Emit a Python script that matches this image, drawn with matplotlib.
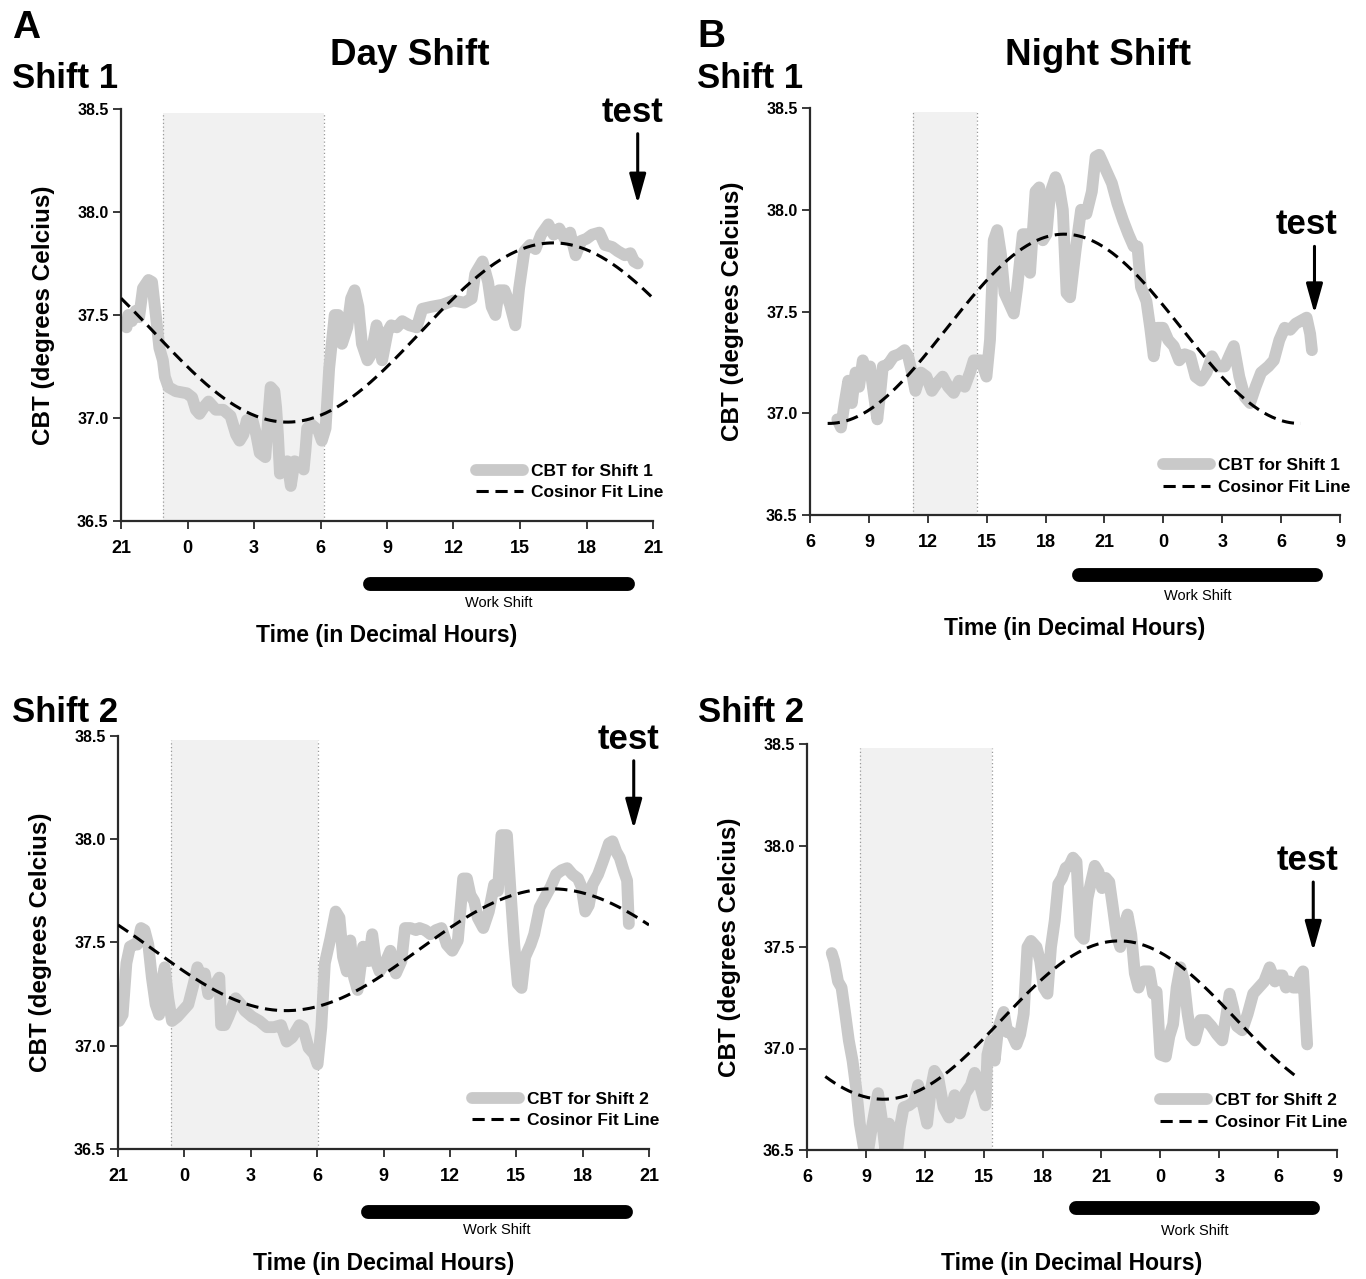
import numpy as np
import matplotlib
matplotlib.use("Agg")
import matplotlib.pyplot as plt

plt.rcParams['font.family'] = ['Liberation Sans', 'DejaVu Sans']

W, H = 1366, 1279

# ---------------- data (x = elapsed hours from panel start) ----------------
# Day shift panels: x=0 is 21:00 ; Night shift panels: x=6 is 06:00
day_ticks = [0, 3, 6, 9, 12, 15, 18, 21, 24]
day_labels = ['21', '0', '3', '6', '9', '12', '15', '18', '21']
night_ticks = [6, 9, 12, 15, 18, 21, 24, 27, 30, 33]
night_labels = ['6', '9', '12', '15', '18', '21', '0', '3', '6', '9']
y_ticks = [36.5, 37.0, 37.5, 38.0, 38.5]

# Panel A, shift 1
a1_hours = [0.25, 0.33, 0.49, 0.66, 0.82, 0.99, 1.24, 1.40, 1.57, 1.73, 1.89, 1.98, 2.14, 2.47, 2.97,
            3.21, 3.38, 3.54, 3.79, 3.95, 4.28, 4.61, 4.94, 5.19, 5.35, 5.52, 5.68, 5.93, 6.10, 6.26,
            6.51, 6.67, 6.75, 6.92, 7.00, 7.08, 7.17, 7.33, 7.50, 7.66, 7.83, 8.07, 8.24, 8.32, 8.40,
            8.57, 8.90, 9.06, 9.23, 9.39, 9.64, 9.80, 9.97, 10.21, 10.38, 10.54, 10.71, 10.87, 11.12,
            11.29, 11.53, 11.70, 11.78, 12.03, 12.19, 12.44, 12.69, 13.01, 13.34, 13.59, 14.00, 14.50,
            14.99, 15.49, 15.82, 15.98, 16.31, 16.56, 16.72, 16.89, 17.05, 17.30, 17.55, 17.79, 17.96,
            18.20, 18.45, 18.70, 18.95, 19.28, 19.52, 19.77, 20.02, 20.26, 20.51, 20.76, 21.00, 21.25,
            21.58, 21.83, 22.16, 22.41, 22.73, 22.98, 23.15, 23.31]
a1_temp = [37.44, 37.50, 37.47, 37.52, 37.49, 37.63, 37.67, 37.66, 37.50, 37.34, 37.28, 37.20, 37.15,
           37.13, 37.12, 37.10, 37.04, 37.02, 37.06, 37.08, 37.04, 37.04, 37.01, 36.92, 36.89, 36.92,
           36.99, 36.99, 36.92, 36.83, 36.81, 37.04, 37.15, 37.13, 37.05, 36.92, 36.73, 36.75, 36.79,
           36.67, 36.79, 36.78, 36.75, 36.84, 36.95, 36.97, 36.94, 36.89, 36.95, 37.24, 37.50, 37.50,
           37.36, 37.44, 37.58, 37.62, 37.54, 37.36, 37.28, 37.31, 37.45, 37.37, 37.28, 37.42, 37.45,
           37.44, 37.47, 37.45, 37.44, 37.53, 37.54, 37.55, 37.57, 37.56, 37.58, 37.70, 37.76, 37.66,
           37.54, 37.50, 37.62, 37.62, 37.55, 37.45, 37.63, 37.81, 37.84, 37.82, 37.89, 37.94, 37.89,
           37.92, 37.87, 37.90, 37.79, 37.86, 37.87, 37.89, 37.90, 37.84, 37.83, 37.81, 37.79, 37.80,
           37.76, 37.75]

# Panel A, shift 2
a2_hours = [0.05, 0.21, 0.38, 0.54, 0.71, 0.87, 1.04, 1.20, 1.37, 1.53, 1.70, 1.86, 2.02, 2.11, 2.27,
            2.44, 2.68, 2.93, 3.18, 3.42, 3.59, 3.75, 3.92, 4.08, 4.25, 4.41, 4.58, 4.66, 4.82, 4.99,
            5.32, 5.56, 5.73, 6.06, 6.39, 6.72, 7.05, 7.37, 7.62, 7.87, 8.20, 8.36, 8.61, 8.86, 9.02,
            9.19, 9.35, 9.60, 9.84, 10.01, 10.17, 10.34, 10.50, 10.67, 10.83, 11.08, 11.33, 11.49,
            11.65, 11.82, 12.07, 12.31, 12.56, 12.81, 12.97, 13.22, 13.47, 13.63, 13.88, 14.12, 14.37,
            14.62, 14.86, 15.11, 15.36, 15.60, 15.77, 15.93, 16.10, 16.26, 16.51, 16.76, 17.00, 17.17,
            17.33, 17.58, 17.74, 17.91, 18.07, 18.24, 18.40, 18.65, 18.81, 19.06, 19.31, 19.56, 19.80,
            20.05, 20.30, 20.54, 20.79, 20.95, 21.12, 21.28, 21.45, 21.70, 21.94, 22.19, 22.35, 22.52,
            22.68, 22.85, 23.01, 23.09]
a2_temp = [37.12, 37.15, 37.40, 37.48, 37.49, 37.49, 37.57, 37.56, 37.49, 37.33, 37.20, 37.15, 37.33,
           37.38, 37.23, 37.12, 37.14, 37.17, 37.20, 37.30, 37.38, 37.33, 37.35, 37.25, 37.28, 37.30,
           37.33, 37.10, 37.10, 37.14, 37.23, 37.20, 37.17, 37.14, 37.12, 37.09, 37.09, 37.10, 37.02,
           37.04, 37.10, 37.09, 36.99, 36.96, 36.91, 37.09, 37.40, 37.52, 37.65, 37.62, 37.43, 37.36,
           37.51, 37.33, 37.27, 37.48, 37.41, 37.54, 37.41, 37.36, 37.40, 37.46, 37.35, 37.41, 37.57,
           37.57, 37.56, 37.57, 37.56, 37.54, 37.56, 37.57, 37.49, 37.46, 37.51, 37.81, 37.81, 37.73,
           37.70, 37.62, 37.57, 37.65, 37.78, 37.75, 38.02, 38.02, 37.75, 37.49, 37.30, 37.28, 37.43,
           37.49, 37.54, 37.67, 37.72, 37.77, 37.83, 37.85, 37.86, 37.83, 37.81, 37.77, 37.65, 37.68,
           37.78, 37.83, 37.90, 37.98, 37.99, 37.94, 37.91, 37.85, 37.80, 37.59]

# Panel B, shift 1
b1_hours = [7.39, 7.58, 7.76, 7.95, 8.13, 8.32, 8.50, 8.69, 8.87, 9.06, 9.24, 9.43, 9.61, 9.71, 9.98,
            10.26, 10.54, 10.82, 11.00, 11.19, 11.37, 11.65, 11.93, 12.21, 12.49, 12.76, 13.04, 13.32,
            13.60, 13.88, 14.15, 14.34, 14.71, 14.99, 15.17, 15.36, 15.54, 15.73, 15.91, 16.10, 16.38,
            16.56, 16.84, 17.03, 17.21, 17.49, 17.68, 17.86, 18.05, 18.23, 18.51, 18.69, 18.88, 19.07,
            19.25, 19.53, 19.81, 20.08, 20.36, 20.55, 20.73, 20.92, 21.10, 21.38, 21.66, 21.94, 22.22,
            22.49, 22.68, 22.86, 23.14, 23.33, 23.51, 23.70, 23.98, 24.25, 24.53, 24.81, 25.09, 25.37,
            25.64, 25.92, 26.20, 26.48, 26.76, 27.13, 27.40, 27.59, 27.87, 28.15, 28.42, 28.70, 28.98,
            29.35, 29.63, 29.91, 30.18, 30.46, 30.74, 31.11, 31.30, 31.48, 31.57]
b1_temp = [36.97, 36.93, 37.05, 37.16, 37.05, 37.20, 37.13, 37.26, 37.20, 37.23, 37.10, 36.97, 37.13,
           37.23, 37.24, 37.28, 37.29, 37.31, 37.28, 37.20, 37.11, 37.20, 37.18, 37.11, 37.15, 37.18,
           37.13, 37.10, 37.16, 37.13, 37.20, 37.26, 37.26, 37.18, 37.36, 37.85, 37.90, 37.78, 37.59,
           37.55, 37.49, 37.62, 37.88, 37.88, 37.69, 38.09, 38.11, 37.85, 37.88, 38.08, 38.16, 38.11,
           38.00, 37.59, 37.57, 37.80, 38.00, 37.98, 38.09, 38.26, 38.27, 38.23, 38.19, 38.13, 38.03,
           37.95, 37.88, 37.82, 37.82, 37.62, 37.55, 37.42, 37.28, 37.42, 37.42, 37.36, 37.33, 37.26,
           37.29, 37.28, 37.18, 37.16, 37.20, 37.28, 37.23, 37.23, 37.29, 37.33, 37.18, 37.08, 37.05,
           37.13, 37.20, 37.23, 37.26, 37.36, 37.42, 37.41, 37.44, 37.46, 37.47, 37.39, 37.31]

# Panel B, shift 2
b2_hours = [7.26, 7.39, 7.58, 7.76, 7.95, 8.13, 8.32, 8.51, 8.69, 8.88, 9.06, 9.25, 9.43, 9.62, 9.80,
            9.99, 10.18, 10.36, 10.55, 10.73, 10.92, 11.20, 11.47, 11.66, 11.94, 12.12, 12.31, 12.49,
            12.68, 12.96, 13.24, 13.52, 13.79, 14.07, 14.35, 14.54, 14.81, 15.09, 15.19, 15.37, 15.56,
            15.74, 16.02, 16.21, 16.39, 16.67, 16.86, 17.04, 17.23, 17.41, 17.69, 17.88, 18.06, 18.25,
            18.43, 18.62, 18.80, 18.99, 19.18, 19.36, 19.55, 19.73, 19.92, 20.10, 20.29, 20.47, 20.66,
            20.85, 21.03, 21.22, 21.40, 21.59, 21.77, 21.96, 22.14, 22.33, 22.52, 22.70, 22.89, 23.16,
            23.44, 23.63, 23.81, 24.00, 24.28, 24.46, 24.65, 24.83, 25.02, 25.21, 25.39, 25.58, 25.76,
            26.04, 26.32, 26.60, 26.88, 27.15, 27.34, 27.53, 27.71, 27.90, 28.17, 28.45, 28.73, 29.01,
            29.29, 29.57, 29.84, 30.03, 30.22, 30.40, 30.59, 30.77, 30.96, 31.14, 31.27, 31.39, 31.48]
b2_temp = [37.47, 37.43, 37.33, 37.30, 37.17, 37.04, 36.94, 36.80, 36.63, 36.52, 36.46, 36.58, 36.68,
           36.78, 36.66, 36.50, 36.63, 36.50, 36.46, 36.61, 36.71, 36.72, 36.74, 36.82, 36.71, 36.63,
           36.80, 36.89, 36.86, 36.71, 36.66, 36.77, 36.68, 36.78, 36.82, 36.88, 36.82, 36.72, 36.97,
           37.04, 36.94, 37.10, 37.18, 37.08, 37.08, 37.02, 37.07, 37.17, 37.50, 37.53, 37.50, 37.43,
           37.30, 37.27, 37.50, 37.63, 37.81, 37.84, 37.89, 37.90, 37.94, 37.92, 37.56, 37.54, 37.74,
           37.82, 37.90, 37.87, 37.79, 37.84, 37.82, 37.69, 37.56, 37.50, 37.60, 37.66, 37.56, 37.37,
           37.30, 37.38, 37.38, 37.27, 37.28, 36.97, 36.96, 37.06, 37.12, 37.30, 37.40, 37.33, 37.17,
           37.06, 37.04, 37.14, 37.14, 37.11, 37.07, 37.04, 37.15, 37.27, 37.20, 37.11, 37.09, 37.17,
           37.27, 37.30, 37.33, 37.40, 37.33, 37.36, 37.36, 37.30, 37.33, 37.30, 37.30, 37.36, 37.38,
           37.17, 37.02]

# Cosinor fit parameters: mesor, amplitude, acrophase (elapsed h), start, end (elapsed h)
a1_cosinor = [37.415, 0.435, 19.5, 0.0, 24.0]
a2_cosinor = [37.465, 0.295, 19.6, 0.0, 24.0]
b1_cosinor = [37.415, 0.465, 18.95, 6.9, 31.0]
b2_cosinor = [37.14, 0.39, 21.9, 6.93, 31.05]

# Sleep episodes (elapsed h)
a1_sleep = [1.9, 9.15]
a2_sleep = [2.40, 9.05]
b1_sleep = [11.27, 14.5]
b2_sleep = [8.69, 15.41]

# Work shifts (elapsed h)
a1_work = [11.25, 22.85]
a2_work = [11.3, 22.95]
b1_work = [19.7, 31.8]
b2_work = [19.7, 31.8]

# "test" markers: x, arrow top, arrow tip
a1_test = [23.31, 38.38, 38.04]
a2_test = [23.31, 38.38, 38.05]
b1_test = [31.70, 37.82, 37.49]
b2_test = [31.79, 37.82, 37.48]

GRAY = '#c9c9c9'


def fig_rect(left, top, right, bottom):
    return [left / W, 1 - bottom / H, (right - left) / W, (bottom - top) / H]


fig = plt.figure(figsize=(W / 100, H / 100), dpi=100)


def panel(rect, hours, temp, cos, sleep, work, test, ticks, labels, xlim, label,
          bar_y, ws_y, xl_y, test_dx):
    ax = fig.add_axes(rect)
    ax.set_xlim(*xlim)
    ax.set_ylim(36.5, 38.5)
    ax.axvspan(sleep[0], sleep[1], ymin=0, ymax=0.99, color='#f1f1f1', zorder=0, lw=0)
    for s in sleep:
        ax.plot([s, s], [36.5, 38.48], ls=(0, (1, 2)), color='#9a9a9a', lw=0.9, zorder=1)
    ax.plot(hours, temp, color=GRAY, lw=8.5, solid_capstyle='round', solid_joinstyle='round',
            zorder=2, label='CBT for ' + label)
    m, a, ph, t0, t1 = cos
    tt = np.linspace(t0, t1, 300)
    ax.plot(tt, m + a * np.cos(2 * np.pi * (tt - ph) / 24), color='black', lw=2.2,
            ls=(0, (4, 2.2)), zorder=3, label='Cosinor Fit Line')
    ax.set_xticks(ticks)
    ax.set_xticklabels(labels)
    ax.set_yticks(y_ticks)
    ax.set_yticklabels(['%.1f' % v for v in y_ticks])
    for sp in ['top', 'right']:
        ax.spines[sp].set_visible(False)
    for sp in ['left', 'bottom']:
        ax.spines[sp].set_linewidth(1.6)
        ax.spines[sp].set_color('#2a2a2a')
    ax.tick_params(axis='both', direction='out', length=6, width=1.3, color='#2a2a2a')
    ax.tick_params(axis='x', labelsize=13, pad=8)
    ax.tick_params(axis='y', labelsize=11.5, pad=3)
    for t in ax.get_xticklabels() + ax.get_yticklabels():
        t.set_fontweight('bold')
    ax.set_ylabel('CBT (degrees Celcius)', fontsize=17.5, fontweight='bold', labelpad=16)
    ax.legend(loc='lower right', bbox_to_anchor=(1.02, 0.05), frameon=False,
              borderpad=0, borderaxespad=0, handlelength=2.7, handletextpad=0.5,
              labelspacing=0.35, prop={'weight': 'bold', 'size': 12.5})
    # work shift bar
    ax.plot(work, [bar_y, bar_y], transform=ax.get_xaxis_transform(), color='black', lw=10,
            solid_capstyle='round', clip_on=False)
    ax.text((work[0] + work[1]) / 2, ws_y, 'Work Shift', transform=ax.get_xaxis_transform(),
            ha='center', va='center', fontsize=10.5)
    ax.text(0.5, xl_y, 'Time (in Decimal Hours)', transform=ax.transAxes, ha='center',
            va='center', fontsize=16.5, fontweight='bold')
    # test arrow
    ax.annotate('', xy=(test[0], test[2]), xytext=(test[0], test[1]),
                arrowprops=dict(arrowstyle='-|>,head_width=0.28,head_length=1.0', lw=2.2,
                                color='black', mutation_scale=18, shrinkA=0, shrinkB=0),
                annotation_clip=False)
    ax.text(test[0] + test_dx, test[1] + 0.025, 'test', ha='center', va='bottom', fontsize=25,
            fontweight='bold', clip_on=False)
    return ax


panel(fig_rect(121, 109, 653, 521), a1_hours, a1_temp, a1_cosinor, a1_sleep, a1_work, a1_test,
      day_ticks, day_labels, (0, 24), 'Shift 1', -0.153, -0.2, -0.278, -0.25)
panel(fig_rect(810, 108, 1340, 515), b1_hours, b1_temp, b1_cosinor, b1_sleep, b1_work, b1_test,
      night_ticks, night_labels, (6, 33), 'Shift 1', -0.147, -0.2, -0.28, -0.4)
panel(fig_rect(118, 736, 649, 1149), a2_hours, a2_temp, a2_cosinor, a2_sleep, a2_work, a2_test,
      day_ticks, day_labels, (0, 24), 'Shift 2', -0.153, -0.196, -0.278, -0.25)
panel(fig_rect(807, 744, 1337, 1150), b2_hours, b2_temp, b2_cosinor, b2_sleep, b2_work, b2_test,
      night_ticks, night_labels, (6, 33), 'Shift 2', -0.143, -0.2, -0.28, -0.3)


def ftext(px, py, s, size, ha='left'):
    fig.text(px / W, 1 - py / H, s, fontsize=size, fontweight='bold', ha=ha, va='baseline')


ftext(12, 38, 'A', 28)
ftext(697, 47, 'B', 28)
ftext(410, 65, 'Day Shift', 26.5, ha='center')
ftext(1098, 65, 'Night Shift', 26.5, ha='center')
ftext(12, 88, 'Shift 1', 25)
ftext(697, 88, 'Shift 1', 25)
ftext(12, 722, 'Shift 2', 25)
ftext(698, 722, 'Shift 2', 25)

fig.savefig('out.png', dpi=100)
